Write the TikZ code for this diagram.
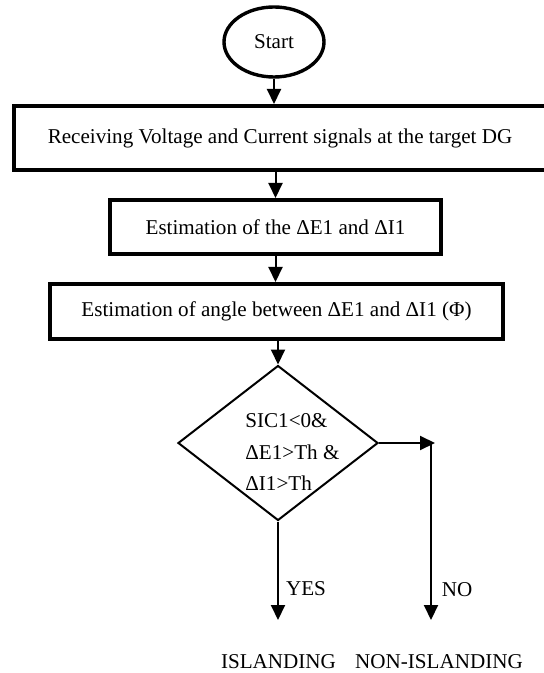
\documentclass[tikz,border=0pt]{standalone}
\usepackage{fontspec}
\setmainfont{Liberation Serif}
\usetikzlibrary{shapes.geometric,arrows.meta}
\begin{document}
\begin{tikzpicture}[x=0.5pt,y=-0.5pt,
  font=\fontsize{10.55}{15.75}\selectfont,
  blk/.style={draw,line width=2pt,inner sep=0pt},
  arr/.style={-{Triangle[length=7.5pt,width=7pt]},line width=1pt}]
\useasboundingbox (0,0) rectangle (543,673);
\node[draw,ellipse,line width=1.7pt,minimum width=50pt,minimum height=35pt,inner sep=0pt] (start) at (274,42) {Start};
\node[blk,minimum width=266pt,minimum height=32pt] (recv) at (280,138) {Receiving Voltage and Current signals at the target DG};
\node[blk,minimum width=165.5pt,minimum height=27pt] (est) at (275.5,227) {Estimation of the ΔE1 and ΔI1};
\node[blk,minimum width=226.5pt,minimum height=27.5pt] (ang) at (276.5,311.5) {Estimation of angle between ΔE1 and ΔI1 (Φ)};
\node[draw,diamond,line width=1pt,minimum width=100pt,minimum height=77.5pt,inner sep=0pt] (dec) at (278,443) {};
\node[align=left,anchor=west,inner sep=0pt] (dectxt) at (245,452) {SIC1<0\&\\ΔE1>Th \&\\ΔI1>Th};
\node (yes) at (306,589) {YES};
\node (no) at (457,590) {NO};
\node (isl) at (278.5,662) {ISLANDING};
\node (nonisl) at (439,662) {NON-ISLANDING};
\coordinate (yesend) at (279,620);
\coordinate (notip) at (435,443);
\coordinate (nofoot) at (431,620);
\draw[arr] (start.south) -- (start.south |- recv.north);
\draw[arr] (recv.south -| est.north) -- (est.north);
\draw[arr] (est.south) -- (est.south |- ang.north);
\draw[arr] (ang.south -| dec.north) -- (dec.north);
\draw[arr] (dec.south) -- (dec.south |- yesend);
\draw[arr] (dec.east) -- (notip);
\draw[arr] (notip -| nofoot) -- (nofoot);
\end{tikzpicture}
\end{document}
